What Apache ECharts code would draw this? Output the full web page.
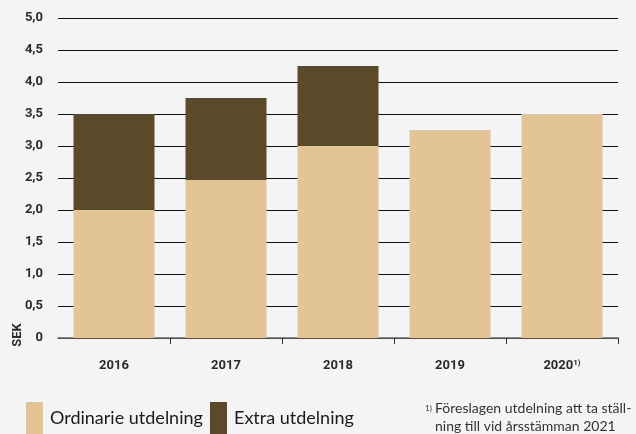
<!DOCTYPE html>
<html>
<head>
<meta charset="utf-8">
<script src="https://cdn.jsdelivr.net/npm/echarts@6/dist/echarts.min.js"></script>
<style>
  html, body { margin: 0; padding: 0; background: #F4F4F4; }
  #chart { width: 636px; height: 434px; }
</style>
</head>
<body>
<div id="chart"></div>
<script>
// Dividend per share (SEK), ordinary + extra, stacked per year
var years = ['2016', '2017', '2018', '2019', '2020'];
var ordinary = [2.0, 2.47, 3.0, 3.25, 3.5];
var extra = [1.5, 1.28, 1.25, 0, 0];
var yTicks = [0, 0.5, 1.0, 1.5, 2.0, 2.5, 3.0, 3.5, 4.0, 4.5, 5.0];
var seriesNames = ['Ordinarie utdelning', 'Extra utdelning'];
var footnoteLines = ['Föreslagen utdelning att ta ställ-', 'ning till vid årsstämman 2021'];

var LIGHT = '#E2C495';
var DARK = '#5B4A2A';
var AXIS_FONT = "Roboto, 'Liberation Sans', sans-serif";
var TEXT_FONT = "Lato, 'Open Sans', sans-serif";

var chart = echarts.init(document.getElementById('chart'), null, { renderer: 'canvas' });

function sekLabel(v) {
  return v === 0 ? '0' : v.toFixed(1).replace('.', ',');
}

function legendBlock(name, left) {
  return {
    data: [name],
    left: left, top: 402, padding: 0,
    icon: 'rect', itemWidth: 17, itemHeight: 32,
    selectedMode: false,
    textStyle: { fontFamily: TEXT_FONT, fontSize: 18, color: '#1a1a1a', padding: [0, 0, 7, 2] }
  };
}

chart.setOption({
  backgroundColor: '#F4F4F4',
  animation: false,
  grid: { left: 58, right: 18, top: 18, bottom: 96, containLabel: false },
  legend: [legendBlock(seriesNames[0], 26), legendBlock(seriesNames[1], 210)],
  xAxis: {
    type: 'category',
    data: years,
    axisLine: { show: true, lineStyle: { color: '#666', width: 1.5 } },
    axisTick: {
      show: true, length: 6, lineStyle: { color: '#333', width: 1 },
      interval: function (index) { return index > 0; }
    },
    axisLabel: {
      interval: 0,
      margin: 21,
      fontFamily: AXIS_FONT, fontSize: 13, fontWeight: 'bold', color: '#2a2a2a',
      formatter: function (v, i) { return i === years.length - 1 ? v + '{sup|1)}' : v; },
      rich: {
        sup: { fontFamily: AXIS_FONT, fontSize: 8, fontWeight: 'bold', color: '#2a2a2a', padding: [0, 0, 6, 0] }
      }
    },
    splitLine: { show: false }
  },
  yAxis: {
    type: 'value',
    min: yTicks[0], max: yTicks[yTicks.length - 1], interval: 0.5,
    axisLine: { show: false },
    axisTick: { show: false },
    axisLabel: {
      margin: 15,
      fontFamily: AXIS_FONT, fontSize: 13, fontWeight: 'bold', color: '#2a2a2a',
      formatter: sekLabel
    },
    splitLine: { show: true, lineStyle: { color: '#111', width: 1.2 } }
  },
  series: [
    {
      name: seriesNames[0], type: 'bar', stack: 'div',
      data: ordinary, barWidth: 81,
      itemStyle: { color: LIGHT }
    },
    {
      name: seriesNames[1], type: 'bar', stack: 'div',
      data: extra, barWidth: 81,
      itemStyle: { color: DARK }
    }
  ],
  graphic: [
    {
      type: 'text', x: 17.5, y: 335, rotation: Math.PI / 2,
      style: {
        text: 'SEK', fontFamily: AXIS_FONT, fontSize: 13, fontWeight: 'bold', fill: '#2a2a2a',
        align: 'center', verticalAlign: 'middle'
      }
    },
    {
      type: 'text', x: 425, y: 404,
      style: { text: '1)', fontFamily: TEXT_FONT, fontSize: 8, fill: '#333' }
    },
    {
      type: 'text', x: 435, y: 408,
      style: { text: footnoteLines[0], fontFamily: TEXT_FONT, fontSize: 14, fill: '#333', verticalAlign: 'middle' }
    },
    {
      type: 'text', x: 435, y: 426,
      style: { text: footnoteLines[1], fontFamily: TEXT_FONT, fontSize: 14, fill: '#333', verticalAlign: 'middle' }
    }
  ]
});
</script>
</body>
</html>
